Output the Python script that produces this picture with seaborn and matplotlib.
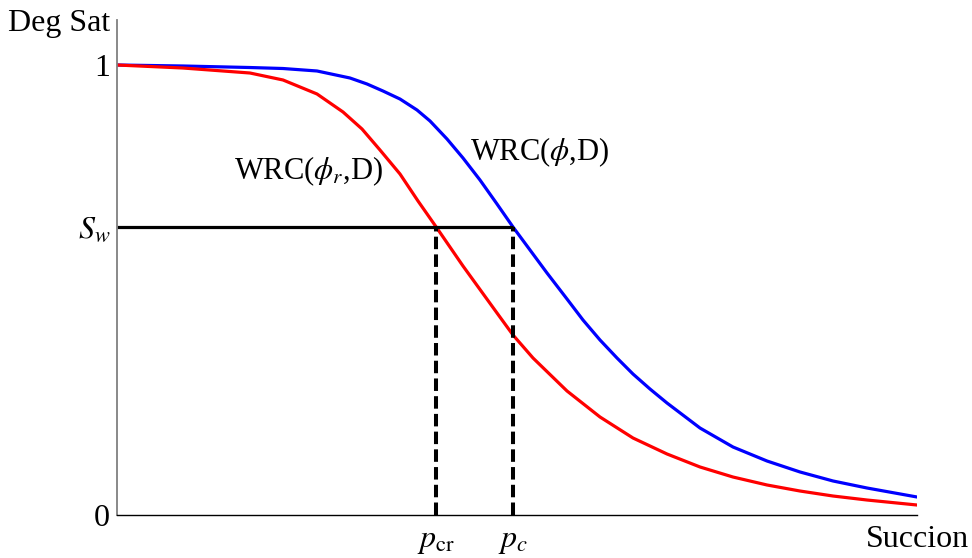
import matplotlib
matplotlib.use("Agg")
import matplotlib.pyplot as plt
import seaborn as sns

# succion (normalised 0..1) and degree of saturation
succ_blue = [0.0, 0.0825, 0.16625, 0.2075, 0.25, 0.29125, 0.3125, 0.3325, 0.35375,
             0.375, 0.39125, 0.4125, 0.4325, 0.45375, 0.475, 0.495, 0.51625, 0.5375,
             0.5625, 0.5825, 0.60375, 0.625, 0.645, 0.66625, 0.6875, 0.72875, 0.77,
             0.8125, 0.85375, 0.895, 0.9375, 1.0]
sat_blue = [1.0, 0.9978, 0.9944, 0.9922, 0.9867, 0.9711, 0.9578, 0.9422, 0.9244,
            0.90, 0.8756, 0.8356, 0.7933, 0.7444, 0.6911, 0.64, 0.5889, 0.5378,
            0.48, 0.4333, 0.3889, 0.3489, 0.3133, 0.28, 0.2489, 0.1933, 0.1511,
            0.12, 0.0956, 0.0756, 0.06, 0.04]

succ_red = [0.0, 0.0825, 0.16625, 0.2075, 0.25, 0.2825, 0.30625, 0.32875, 0.35375,
            0.37625, 0.399, 0.4325, 0.475, 0.495, 0.52, 0.5625, 0.60375, 0.645,
            0.6875, 0.72875, 0.77, 0.8125, 0.85375, 0.895, 0.9375, 1.0]
sat_red = [1.0, 0.9933, 0.9822, 0.9667, 0.9356, 0.8956, 0.8578, 0.8111, 0.7578,
           0.6978, 0.64, 0.5533, 0.4489, 0.40, 0.3489, 0.2756, 0.2178, 0.1711,
           0.1356, 0.1067, 0.0844, 0.0667, 0.0533, 0.0422, 0.0333, 0.0222]

Sw = 0.64
p_cr = 0.399
p_c = 0.495

ytick_vals = [0, Sw, 1, 1.1]
ytick_labels = ["0", "$S_w$", "1", "Deg Sat"]
xtick_vals = [p_cr, p_c, 1.0]
xtick_labels = [r"$p_{\mathrm{cr}}$", "$p_c$", "Succion"]

sns.set_style("white")
plt.rcParams["font.family"] = ["Liberation Serif", "DejaVu Serif"]
plt.rcParams["mathtext.fontset"] = "stix"
plt.rcParams["text.color"] = "black"
plt.rcParams["xtick.color"] = "black"
plt.rcParams["ytick.color"] = "black"

fig = plt.figure(figsize=(9.72, 5.58), dpi=100)
ax = fig.add_axes([117 / 972, 1 - 515 / 558, 800 / 972, 495 / 558])

sns.lineplot(x=succ_blue, y=sat_blue, color="#0000ff", linewidth=2.3, ax=ax)
sns.lineplot(x=succ_red, y=sat_red, color="#ff0000", linewidth=2.3, ax=ax)

ax.plot([0, p_c], [Sw, Sw], color="black", linewidth=2.3, solid_capstyle="butt")
ax.vlines([p_cr, p_c], 0, Sw, colors="black", linewidth=2.9,
          linestyles=(0, (3.1, 1.3)))

ax.text(0.146, 0.747, r"WRC($\phi_r$,D)", fontsize=22, va="baseline", ha="left")
ax.text(0.441, 0.789, r"WRC($\phi$,D)", fontsize=22, va="baseline", ha="left")

ax.set_xlim(0, 1.0)
ax.set_ylim(0, 1.1)
ax.set_yticks(ytick_vals)
ax.set_yticklabels(ytick_labels, fontsize=23)
ax.set_xticks(xtick_vals)
ax.set_xticklabels(xtick_labels, fontsize=23)
ax.tick_params(axis="both", direction="in", length=6, width=1.2)
ax.tick_params(axis="y", pad=5)
ax.tick_params(axis="x", pad=23)
for lbl in ax.get_xticklabels():
    lbl.set_verticalalignment("baseline")

for side in ["top", "right"]:
    ax.spines[side].set_visible(False)
ax.spines["left"].set_color("#808080")
ax.spines["left"].set_linewidth(1.3)
ax.spines["bottom"].set_color("black")
ax.spines["bottom"].set_linewidth(1.0)

fig.savefig("out.png", dpi=100)
